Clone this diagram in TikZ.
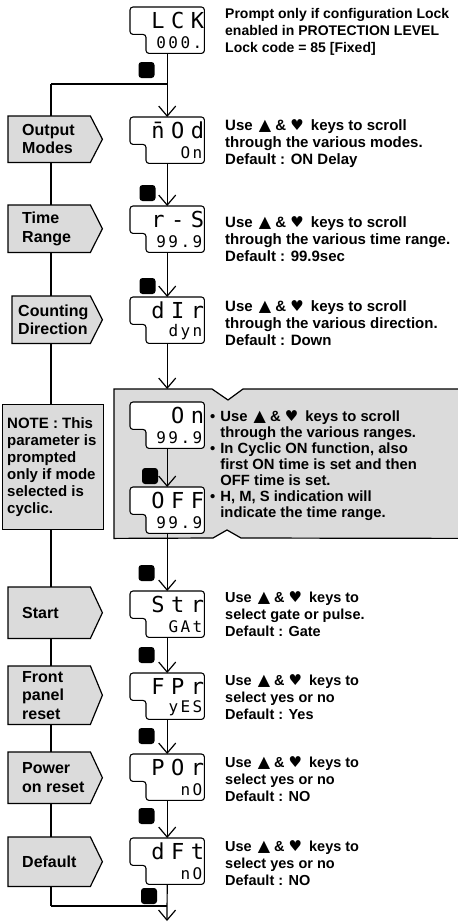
\documentclass[tikz,border=0pt]{standalone}
\usepackage{fontspec}
\setmainfont{Liberation Sans}
\newfontfamily\symf{DejaVu Sans}
\newfontfamily\segA{DejaVu Sans Mono}[LetterSpace=30]
\newfontfamily\segB{DejaVu Sans Mono}[LetterSpace=15]
\usetikzlibrary{arrows.meta,calc}
\definecolor{boxgray}{HTML}{DBDBDB}
\newcommand\upk{\hspace{2pt}{\symf\mdseries\fontsize{16}{16}\selectfont ▲}}
\newcommand\dnk{{\symf\fontsize{15}{15}\selectfont ♥}\hspace{3pt}}
\tikzset{
  dispbox/.style={minimum width=74pt, minimum height=46pt, inner sep=0pt, anchor=north west},
  dline/.style={line width=1.1pt, rounded corners=3pt, fill=white},
  conn/.style={line width=1.2pt},
  arr/.style={conn, -{Straight Barb[length=10pt,width=17pt]}},
  keysq/.style={fill=black, rounded corners=3pt, minimum size=16pt, inner sep=0pt},
  rtext/.style={anchor=west, align=left, inner sep=0pt, font=\fontsize{15}{17}\selectfont\bfseries},
  rtextb/.style={rtext, font=\fontsize{14.5}{17}\selectfont\bfseries},
  ltext/.style={anchor=west, align=left, inner sep=0pt, font=\fontsize{16}{18.5}\selectfont\bfseries},
  segtop/.style={anchor=east, inner sep=0pt, font=\segA\fontsize{22}{22}\selectfont},
  segbot/.style={anchor=east, inner sep=0pt, font=\segB\fontsize{16}{16}\selectfont},
  gbox/.style={draw, line width=1.2pt, fill=boxgray}
}
\newcommand\Disp[4]{%
  \node[dispbox] (#1) at (130,#2) {};
  \draw[dline] (#1.north west) -- (#1.north east) -- (#1.south east)
     -- ([xshift=16pt]#1.south west) -- ([xshift=16pt,yshift=19pt]#1.south west)
     -- ([yshift=19pt]#1.south west) -- cycle;
  \node[segtop] (#1t) at ([xshift=0pt,yshift=-13pt]#1.north east) {#3};
  \node[segbot] (#1b) at ([xshift=-2pt,yshift=11pt]#1.south east) {#4};
}
\newcommand\LBox[7]{%
  \node[anchor=north west, minimum width=#4pt, minimum height=#5pt, inner sep=0pt] (#1) at (#2,#3) {};
  \draw[gbox] (#1.north west) -- (#1.north east) -- ([xshift=12pt]#1.east)
     -- (#1.south east) -- (#1.south west) -- cycle;
  \node[ltext] (#1t) at ([xshift=#6pt]#1.west) {#7};
}
\begin{document}
\begin{tikzpicture}[x=1pt,y=-1pt]
\useasboundingbox (0,0) rectangle (458,922);
% left spine
\coordinate (j1) at (51,84);
\coordinate (j2) at (51,906);
\coordinate (fin) at (167,921);
\draw[conn] (j1) -- (j2);
% left boxes
\LBox{om}{8}{116}{82}{46}{14}{Output\\Modes}
\LBox{tr}{8}{205}{82}{47}{14}{Time\\Range}
\LBox{cd}{12}{296}{78}{47}{6}{Counting\\Direction}
\node[gbox, anchor=north west, minimum width=101pt, minimum height=125pt, inner sep=0pt] (note) at (2,404) {};
\node[anchor=west, align=left, inner sep=0pt, font=\fontsize{15}{17}\selectfont\bfseries] (notet) at ([xshift=5pt]note.west)
  {NOTE : This\\parameter is\\prompted\\only if mode\\selected is\\cyclic.};
\LBox{st}{8}{587}{82}{51}{14}{Start}
\LBox{fp}{8}{666}{82}{58}{14}{Front\\panel\\reset}
\LBox{po}{8}{752}{82}{51}{14}{Power\\on reset}
\LBox{df}{8}{837}{82}{49}{14}{Default}
% big cyclic box
\node[anchor=north west, minimum width=350pt, minimum height=149pt, inner sep=0pt] (cyc) at (114,389) {};
\draw[gbox] (cyc.north west) -- (212,389) -- (228,400) -- (243,389) -- (cyc.north east)
  -- (cyc.south east) -- (241,538) -- (227,530) -- (213,538) -- (cyc.south west) -- cycle;
% displays
\Disp{lck}{7}{LCK}{000.}
\Disp{nod}{117}{\=nOd}{On}
\Disp{rs}{206}{r-S}{99.9}
\Disp{dir}{297}{dIr}{dyn}
\Disp{on}{402}{On}{99.9}
\Disp{off}{487}{OFF}{99.9}
\Disp{str}{591}{Str}{GAt}
\Disp{fpr}{673}{FPr}{yES}
\Disp{por}{754}{POr}{nO}
\Disp{dft}{838}{dFt}{nO}
% connectors
\draw[conn] (j1) -- (j1 -| lck.south);
\draw[conn] (j2) -- (j2 -| dft.south);
\draw[arr] (lck.south) -- (nod.north);
\draw[arr] (nod.south) -- (rs.north);
\draw[arr] (rs.south) -- (dir.north);
\draw[arr] (dir.south) -- (dir.south |- cyc.north);
\draw[arr] (on.south) -- (off.north);
\draw[arr] (off.south) -- (str.north);
\draw[arr] (str.south) -- (fpr.north);
\draw[arr] (fpr.south) -- (por.north);
\draw[arr] (por.south) -- (dft.north);
\draw[arr] (dft.south) -- (fin);
% key squares
\node[keysq] (k1) at (146.5,70) {};
\node[keysq] (k2) at (147.5,193) {};
\node[keysq] (k3) at (147.5,286) {};
\node[keysq] (k4) at (150,476) {};
\node[keysq] (k5) at (146.5,573) {};
\node[keysq] (k6) at (146.5,655) {};
\node[keysq] (k7) at (146.5,736) {};
\node[keysq] (k8) at (146.5,816) {};
\node[keysq] (k9) at (149,896) {};
% right texts
\node[rtext, font=\fontsize{14}{17}\selectfont\bfseries] (t0) at (225,32) {Prompt only if configuration Lock\\enabled in PROTECTION LEVEL\\Lock code = 85 [Fixed]};
\node[rtext] (t1) at (225,144) {Use \upk{} \& \dnk{} keys to scroll\\through the various modes.\\Default : ON Delay};
\node[rtext] (t2) at (225,239) {Use \upk{} \& \dnk{} keys to scroll\\through the various time range.\\Default : 99.9sec};
\node[rtext] (t3) at (225,323) {Use \upk{} \& \dnk{} keys to scroll\\through the various direction.\\Default : Down};
\node[rtextb, font=\fontsize{14.8}{16}\selectfont\bfseries] (t4) at (210,466)
  {\begin{tabular}{@{}l@{\hspace{5pt}}l@{}}
   \textbullet & Use \upk{} \& \dnk{} keys to scroll\\
   & through the various ranges.\\
   \textbullet & In Cyclic ON function, also\\
   & first ON time is set and then\\
   & OFF time is set.\\
   \textbullet & H, M, S indication will\\
   & indicate the time range.
   \end{tabular}};
\node[rtextb] (t5) at (225,614) {Use \upk{} \& \dnk{} keys to\\select gate or pulse.\\Default : Gate};
\node[rtextb] (t6) at (225,697) {Use \upk{} \& \dnk{} keys to\\select yes or no\\Default : Yes};
\node[rtextb] (t7) at (225,779) {Use \upk{} \& \dnk{} keys to\\select yes or no\\Default : NO};
\node[rtextb] (t8) at (225,863) {Use \upk{} \& \dnk{} keys to\\select yes or no\\Default : NO};
\end{tikzpicture}
\end{document}
